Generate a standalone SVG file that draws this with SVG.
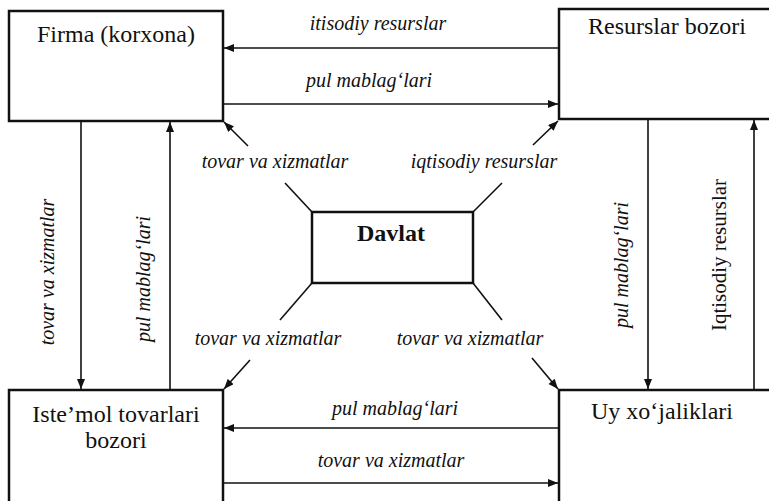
<svg xmlns="http://www.w3.org/2000/svg" width="769" height="501" viewBox="0 0 769 501">
<style>
.box{fill:#fff;stroke:#111;stroke-width:2.5}
.ln{fill:none;stroke:#111;stroke-width:1.6}
.arr{fill:none;stroke:#111;stroke-width:1.6;marker-end:url(#ah)}
text{font-family:'Liberation Serif',Tinos,'Times New Roman','DejaVu Serif',serif;fill:#111;text-anchor:middle}
.t{font-size:24px}
.i{font-size:20px;font-style:italic}
.r{font-size:21px}
.b{font-size:24px;font-weight:bold}
</style>
<defs>
<marker id="ah" viewBox="0 0 10 8" refX="10" refY="4" markerWidth="11" markerHeight="8" markerUnits="userSpaceOnUse" orient="auto">
<path d="M0,0 L10,4 L0,8 Z" fill="#111"/>
</marker>
</defs>
<rect width="769" height="501" fill="#fff"/>
<g id="firma">
<rect class="box" x="9" y="11" width="214" height="110"/>
<text class="t" x="116" y="42">Firma (korxona)</text>
</g>
<g id="resurslar-bozori">
<rect class="box" x="559" y="9" width="230" height="110"/>
<text class="t" x="667" y="34">Resurslar bozori</text>
</g>
<g id="istemol">
<rect class="box" x="9" y="390" width="214" height="140"/>
<text class="t" x="116" y="422">Iste’mol tovarlari</text>
<text class="t" x="116" y="448">bozori</text>
</g>
<g id="uy">
<rect class="box" x="559" y="390" width="230" height="140"/>
<text class="t" x="662" y="419">Uy xo‘jaliklari</text>
</g>
<g id="davlat">
<rect class="box" x="312" y="212" width="161" height="71"/>
<text class="b" x="391" y="241">Davlat</text>
</g>
<g id="connectors">
<line class="arr" x1="559" y1="48" x2="224" y2="48"/>
<line class="arr" x1="223" y1="104" x2="558" y2="104"/>
<line class="arr" x1="559" y1="428" x2="224" y2="428"/>
<line class="arr" x1="223" y1="483" x2="558" y2="483"/>
<line class="arr" x1="81" y1="121" x2="81" y2="389"/>
<line class="arr" x1="170" y1="390" x2="170" y2="122"/>
<line class="arr" x1="648" y1="119" x2="648" y2="389"/>
<line class="arr" x1="754" y1="390" x2="754" y2="120"/>
<line class="ln" x1="312" y1="212" x2="285" y2="183"/>
<line class="ln" x1="473" y1="212" x2="502" y2="183"/>
<line class="ln" x1="312" y1="283" x2="280" y2="320"/>
<line class="ln" x1="473" y1="283" x2="502" y2="320"/>
<line class="arr" x1="248" y1="146" x2="224" y2="122"/>
<line class="arr" x1="533" y1="145" x2="558" y2="121"/>
<line class="arr" x1="250" y1="360" x2="224" y2="389"/>
<line class="arr" x1="532" y1="358" x2="558" y2="389"/>
</g>
<g id="labels">
<text class="i" x="378" y="30">itisodiy resurslar</text>
<text class="i" x="369" y="87">pul mablag‘lari</text>
<text class="i" x="395" y="415">pul mablag‘lari</text>
<text class="i" x="391" y="467">tovar va xizmatlar</text>
<text class="i" x="275" y="168">tovar va xizmatlar</text>
<text class="i" x="484" y="168">iqtisodiy resurslar</text>
<text class="i" x="268" y="345">tovar va xizmatlar</text>
<text class="i" x="470" y="345">tovar va xizmatlar</text>
<text class="i" transform="translate(54,272) rotate(-90)">tovar va xizmatlar</text>
<text class="i" transform="translate(150,279) rotate(-90)">pul mablag‘lari</text>
<text class="i" transform="translate(628,265) rotate(-90)">pul mablag‘lari</text>
<text class="r" transform="translate(726,255) rotate(-90)">Iqtisodiy resurslar</text>
</g>
</svg>
